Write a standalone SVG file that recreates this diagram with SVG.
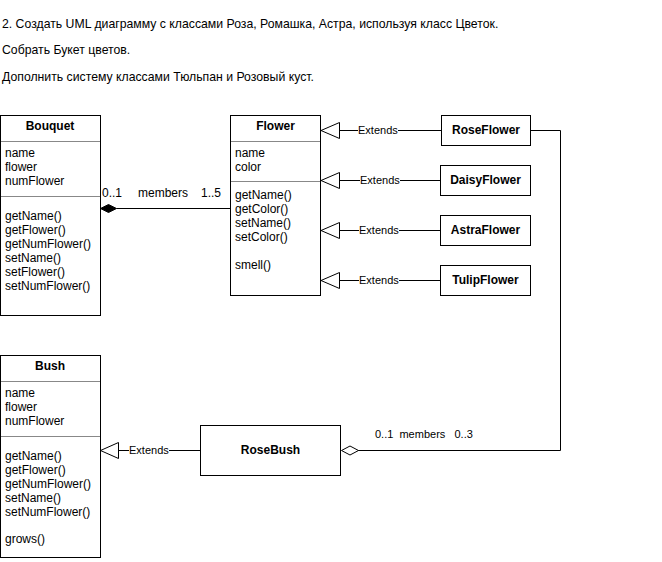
<svg xmlns="http://www.w3.org/2000/svg" width="662" height="562" viewBox="0 0 662 562">
<style>
text{font-family:"Liberation Sans",Arial,sans-serif;font-size:12px;fill:#000}
.t{font-weight:bold;text-anchor:middle}
.h{font-size:12.25px}
.box{fill:#fff;stroke:#000;stroke-width:1}
.div{stroke:#888;stroke-width:1}
.ln{fill:none;stroke:#000;stroke-width:1}
.lbl{font-size:11px}
</style>
<rect width="662" height="562" fill="#fff"/>
<g id="header">
<text class="h" x="2" y="28">2. Создать UML диаграмму с классами Роза, Ромашка, Астра, используя класс Цветок.</text>
<text class="h" x="2" y="54">Собрать Букет цветов.</text>
<text class="h" x="2" y="81">Дополнить систему классами Тюльпан и Розовый куст.</text>
</g>
<g id="connectors">
<path class="ln" d="M116.5,208.5H230.5"/>
<path d="M100.5,208.5L108.5,204.5L116.5,208.5L108.5,212.5Z" fill="#000" stroke="#000"/>
<text x="102" y="197">0..1</text>
<text x="138" y="197">members</text>
<text x="201" y="197">1..5</text>
<g id="ext-rose">
<path class="ln" d="M339.5,130.5H358M398,130.5H441"/>
<path class="ln" d="M321,130.5L339.5,122.5V138.5Z"/>
<text class="lbl" x="358" y="134">Extends</text>
</g>
<g id="ext-daisy">
<path class="ln" d="M339.5,180.5H360M400,180.5H441"/>
<path class="ln" d="M321,180.5L339.5,172.5V188.5Z"/>
<text class="lbl" x="360" y="184">Extends</text>
</g>
<g id="ext-astra">
<path class="ln" d="M339.5,230.5H359M399,230.5H441"/>
<path class="ln" d="M321,230.5L339.5,222.5V238.5Z"/>
<text class="lbl" x="359" y="234">Extends</text>
</g>
<g id="ext-tulip">
<path class="ln" d="M339.5,280.5H359M399,280.5H441"/>
<path class="ln" d="M321,280.5L339.5,272.5V288.5Z"/>
<text class="lbl" x="359" y="284">Extends</text>
</g>
<g id="ext-bush">
<path class="ln" d="M118.5,450.5H129M169,450.5H200"/>
<path class="ln" d="M100.5,450.5L118.5,442.5V458.5Z"/>
<text class="lbl" x="129" y="454">Extends</text>
</g>
<g id="agg-rose">
<path class="ln" d="M530,130.5H560.5V450.5H358"/>
<path d="M341.5,450.5L350,446L358.5,450.5L350,455Z" fill="#fff" stroke="#000"/>
<text class="lbl" x="375" y="438" xml:space="preserve">0..1  members   0..3</text>
</g>
</g>
<g id="Bouquet">
<rect class="box" x="0.5" y="115.5" width="100" height="200"/>
<text class="t" x="50" y="130">Bouquet</text>
<line class="div" x1="1" y1="141.5" x2="100" y2="141.5"/>
<text x="5" y="157">name</text>
<text x="5" y="171">flower</text>
<text x="5" y="185">numFlower</text>
<line class="div" x1="1" y1="196.5" x2="100" y2="196.5"/>
<text x="5" y="220">getName()</text>
<text x="5" y="234">getFlower()</text>
<text x="5" y="248">getNumFlower()</text>
<text x="5" y="262">setName()</text>
<text x="5" y="276">setFlower()</text>
<text x="5" y="290">setNumFlower()</text>
</g>
<g id="Flower">
<rect class="box" x="230.5" y="115.5" width="90" height="180"/>
<text class="t" x="275.5" y="130">Flower</text>
<line class="div" x1="231" y1="141.5" x2="320" y2="141.5"/>
<text x="235" y="157">name</text>
<text x="235" y="171">color</text>
<line class="div" x1="231" y1="181.5" x2="320" y2="181.5"/>
<text x="235" y="199">getName()</text>
<text x="235" y="213">getColor()</text>
<text x="235" y="227">setName()</text>
<text x="235" y="241">setColor()</text>
<text x="235" y="269">smell()</text>
</g>
<g id="RoseFlower">
<rect class="box" x="441.5" y="115.5" width="89" height="30"/>
<text class="t" x="486" y="134">RoseFlower</text>
</g>
<g id="DaisyFlower">
<rect class="box" x="440.5" y="165.5" width="90" height="30"/>
<text class="t" x="485.5" y="184">DaisyFlower</text>
</g>
<g id="AstraFlower">
<rect class="box" x="440.5" y="215.5" width="90" height="30"/>
<text class="t" x="485.5" y="234">AstraFlower</text>
</g>
<g id="TulipFlower">
<rect class="box" x="440.5" y="265.5" width="90" height="30"/>
<text class="t" x="485.5" y="284">TulipFlower</text>
</g>
<g id="Bush">
<rect class="box" x="0.5" y="355.5" width="100" height="202"/>
<text class="t" x="50" y="370">Bush</text>
<line class="div" x1="1" y1="381.5" x2="100" y2="381.5"/>
<text x="5" y="397">name</text>
<text x="5" y="411">flower</text>
<text x="5" y="425">numFlower</text>
<line class="div" x1="1" y1="436.5" x2="100" y2="436.5"/>
<text x="5" y="460">getName()</text>
<text x="5" y="474">getFlower()</text>
<text x="5" y="488">getNumFlower()</text>
<text x="5" y="502">setName()</text>
<text x="5" y="516">setNumFlower()</text>
<text x="5" y="543">grows()</text>
</g>
<g id="RoseBush">
<rect class="box" x="200.5" y="425.5" width="140" height="50"/>
<text class="t" x="270.5" y="454">RoseBush</text>
</g>
</svg>
